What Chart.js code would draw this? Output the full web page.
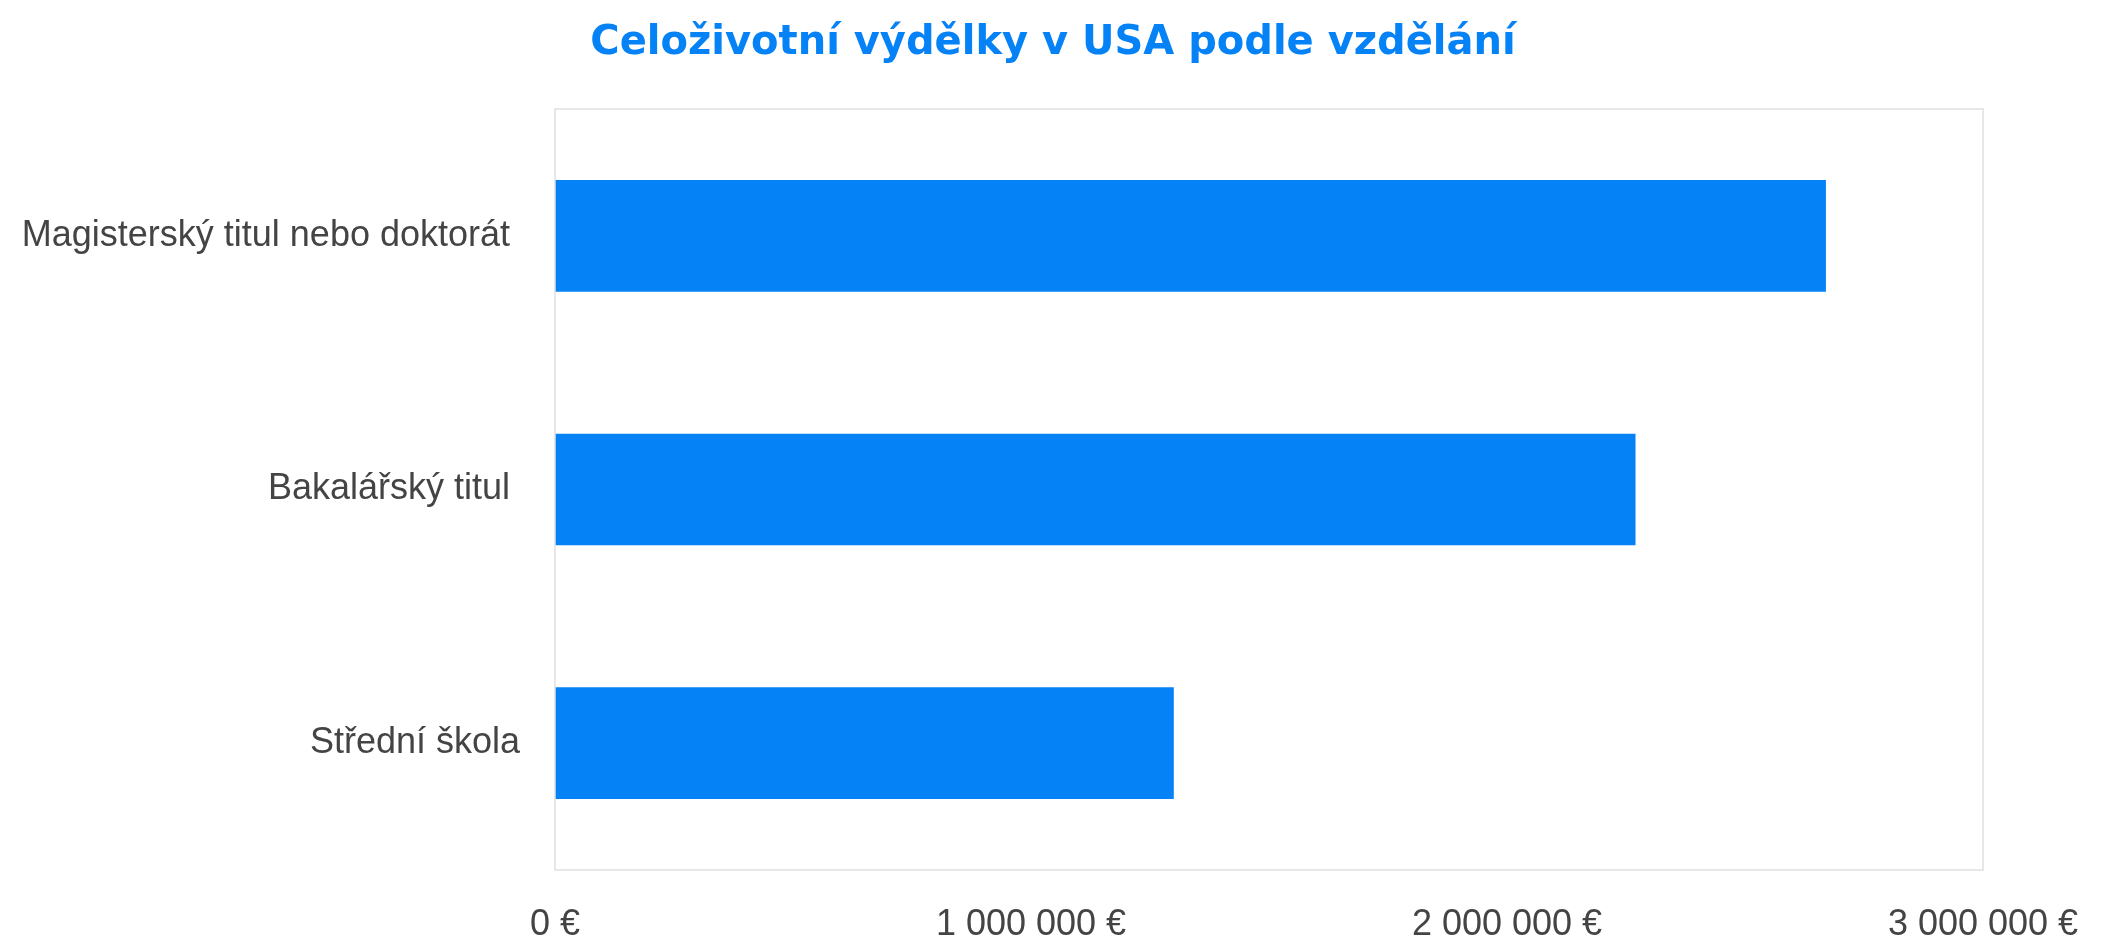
<!DOCTYPE html>
<html>
<head>
<meta charset="utf-8">
<script src="https://cdn.jsdelivr.net/npm/chart.js@4"></script>
<style>
  html, body { margin: 0; padding: 0; background: #fff; }
  #wrap { width: 2106px; height: 948px; }
</style>
</head>
<body>
<div id="wrap"><canvas id="chartVydelky"></canvas></div>
<script>
// data
const kategorie = ['Magisterský titul nebo doktorát ', 'Bakalářský titul ', 'Střední škola'];
const vydelky = [2670000, 2270000, 1300000];
const osaMax = 3000000;
const osaKrok = 1000000;

const modra = '#0582f6';
const seda = '#444444';

function formatEur(v) {
  return String(v).replace(/\B(?=(\d{3})+(?!\d))/g, ' ') + ' €';
}

// ramecek kolem plochy grafu
const ramecek = {
  id: 'ramecek',
  afterDraw(chart) {
    const a = chart.chartArea;
    const c = chart.ctx;
    c.save();
    c.strokeStyle = '#e0e0e0';
    c.lineWidth = 1.5;
    c.strokeRect(a.left, a.top, a.right - a.left, a.bottom - a.top);
    c.restore();
  }
};

const ctx = document.getElementById('chartVydelky');

new Chart(ctx, {
  type: 'bar',
  data: {
    labels: kategorie,
    datasets: [{
      data: vydelky,
      backgroundColor: modra,
      borderWidth: 0,
      barPercentage: 0.44,
      categoryPercentage: 1
    }]
  },
  options: {
    indexAxis: 'y',
    responsive: true,
    maintainAspectRatio: false,
    animation: false,
    layout: { padding: 0 },
    plugins: {
      legend: { display: false },
      tooltip: { enabled: false },
      title: {
        display: true,
        text: 'Celoživotní výdělky v USA podle vzdělání',
        color: modra,
        font: { family: 'DejaVu Sans', size: 40, weight: 'bold', lineHeight: 1.2 },
        padding: { top: 20, bottom: 41 }
      }
    },
    scales: {
      x: {
        min: 0,
        max: osaMax,
        grid: { display: false, drawTicks: false },
        border: { display: false },
        ticks: {
          stepSize: osaKrok,
          color: seda,
          padding: 33,
          font: { family: 'Liberation Sans', size: 36 },
          callback: (v) => formatEur(v)
        },
        afterFit(scale) {
          scale.height = 78;
          scale.paddingLeft = 0;
          scale.paddingRight = 123;
        }
      },
      y: {
        grid: { display: false, drawTicks: false },
        border: { display: false },
        ticks: {
          color: seda,
          padding: 35,
          font: { family: 'Liberation Sans', size: 36 }
        },
        afterFit(scale) { scale.width = 555; }
      }
    }
  },
  plugins: [ramecek]
});
</script>
</body>
</html>
